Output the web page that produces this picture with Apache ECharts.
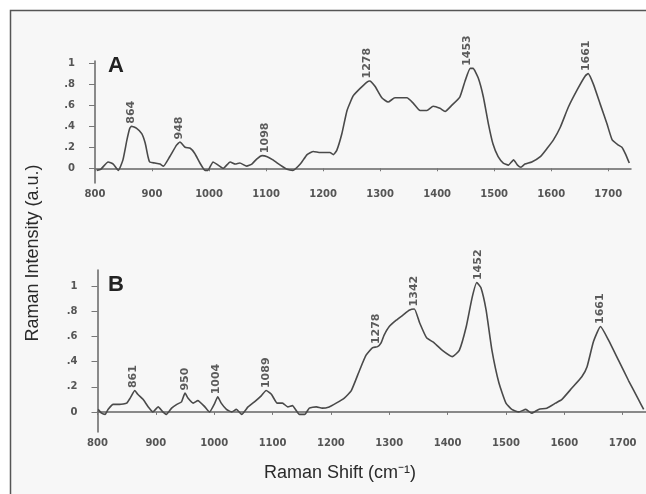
<!DOCTYPE html>
<html>
<head>
<meta charset="utf-8">
<script src="https://cdn.jsdelivr.net/npm/echarts@6/dist/echarts.min.js"></script>
<style>
  html, body { margin: 0; padding: 0; background: #fff; }
  #chart { width: 646px; height: 494px; }
</style>
</head>
<body>
<div id="chart"></div>
<script>
// spectrum A (wavenumber, intensity)
const shiftA = [803, 810, 823, 832, 841, 849, 856, 861, 864, 873, 882, 888, 893, 896, 905, 914, 920, 931, 943, 949, 958, 967, 975, 984, 993, 998, 1007, 1016, 1025, 1037, 1046, 1054, 1066, 1075, 1084, 1093, 1102, 1112, 1125, 1137, 1147, 1160, 1172, 1183, 1195, 1212, 1218, 1224, 1233, 1242, 1253, 1265, 1277, 1282, 1291, 1303, 1314, 1326, 1347, 1358, 1370, 1382, 1393, 1405, 1414, 1426, 1440, 1449, 1458, 1463, 1472, 1481, 1490, 1498, 1507, 1516, 1525, 1534, 1541, 1547, 1554, 1566, 1581, 1593, 1604, 1616, 1630, 1646, 1660, 1665, 1674, 1686, 1698, 1707, 1718, 1724, 1730, 1737];
const intensityA = [-0.02, -0.01, 0.06, 0.04, -0.02, 0.08, 0.27, 0.38, 0.40, 0.38, 0.33, 0.24, 0.11, 0.06, 0.05, 0.04, 0.02, 0.11, 0.22, 0.25, 0.20, 0.19, 0.14, 0.05, -0.02, -0.02, 0.06, 0.03, 0.00, 0.06, 0.04, 0.05, 0.02, 0.04, 0.09, 0.12, 0.11, 0.08, 0.03, -0.01, -0.02, 0.04, 0.13, 0.16, 0.15, 0.15, 0.13, 0.17, 0.33, 0.55, 0.69, 0.76, 0.82, 0.83, 0.78, 0.67, 0.63, 0.67, 0.67, 0.62, 0.55, 0.55, 0.59, 0.57, 0.54, 0.60, 0.68, 0.83, 0.95, 0.95, 0.86, 0.68, 0.42, 0.23, 0.11, 0.05, 0.03, 0.08, 0.03, 0.01, 0.04, 0.06, 0.11, 0.19, 0.27, 0.39, 0.58, 0.75, 0.88, 0.90, 0.80, 0.61, 0.42, 0.27, 0.22, 0.20, 0.14, 0.05];
const peaksA = [864, 948, 1098, 1278, 1453, 1661];
const peakHeightA = [0.40, 0.25, 0.12, 0.83, 0.95, 0.90];

// spectrum B
const shiftB = [801, 807, 813, 818, 827, 838, 850, 856, 864, 869, 878, 887, 895, 904, 912, 918, 927, 936, 944, 950, 955, 964, 972, 984, 992, 1001, 1006, 1012, 1021, 1030, 1038, 1047, 1058, 1069, 1081, 1089, 1098, 1108, 1117, 1126, 1134, 1146, 1155, 1163, 1175, 1185, 1197, 1209, 1223, 1235, 1249, 1260, 1271, 1280, 1286, 1291, 1300, 1312, 1326, 1334, 1343, 1352, 1364, 1377, 1391, 1408, 1420, 1432, 1442, 1450, 1457, 1466, 1476, 1488, 1500, 1510, 1522, 1534, 1544, 1556, 1570, 1585, 1596, 1613, 1630, 1639, 1650, 1662, 1676, 1693, 1710, 1727, 1736];
const intensityB = [0.02, -0.01, -0.02, 0.02, 0.06, 0.06, 0.07, 0.11, 0.17, 0.14, 0.10, 0.04, 0.00, 0.04, 0.00, -0.02, 0.03, 0.06, 0.08, 0.15, 0.11, 0.07, 0.09, 0.04, 0.00, 0.07, 0.12, 0.07, 0.02, 0.00, 0.02, -0.02, 0.04, 0.08, 0.13, 0.17, 0.14, 0.07, 0.07, 0.04, 0.05, -0.02, -0.02, 0.03, 0.04, 0.03, 0.04, 0.07, 0.11, 0.17, 0.33, 0.45, 0.51, 0.52, 0.55, 0.61, 0.68, 0.73, 0.78, 0.81, 0.82, 0.71, 0.59, 0.55, 0.49, 0.44, 0.49, 0.68, 0.91, 1.03, 0.99, 0.81, 0.49, 0.23, 0.07, 0.02, 0.00, 0.02, -0.01, 0.02, 0.03, 0.07, 0.10, 0.19, 0.28, 0.36, 0.56, 0.68, 0.57, 0.41, 0.25, 0.10, 0.02];
const peaksB = [861, 950, 1004, 1089, 1278, 1342, 1452, 1661];
const peakHeightB = [0.17, 0.15, 0.12, 0.17, 0.52, 0.82, 1.03, 0.68];

const yTicks = [0, 0.2, 0.4, 0.6, 0.8, 1];

const chart = echarts.init(document.getElementById('chart'));

function fmtY(v) {
  if (v === 0) return '0';
  if (v === 1) return '1';
  return String(v).replace('0.', '.');
}

function xAxisFor(idx) {
  return {
    type: 'value',
    gridIndex: idx,
    min: 800,
    max: 1740,
    interval: 100,
    axisLine: { lineStyle: { color: '#666', width: 1.5 } },
    axisTick: { length: 3, lineStyle: { color: '#777' } },
    axisLabel: {
      color: '#555', fontSize: 10, fontWeight: 'bold', fontFamily: 'DejaVu Sans',
      margin: 6, showMaxLabel: false, formatter: v => String(v)
    },
    splitLine: { show: false }
  };
}

function yAxisFor(idx, min, max) {
  return {
    type: 'value',
    gridIndex: idx,
    min: min,
    max: max,
    axisLine: { show: true, lineStyle: { color: '#666', width: 1.5 } },
    axisTick: { show: true, length: 6, customValues: yTicks, lineStyle: { color: '#777' } },
    axisLabel: {
      customValues: yTicks, formatter: fmtY, color: '#555',
      fontSize: 10, fontWeight: 'bold', fontFamily: 'DejaVu Sans', margin: 20
    },
    splitLine: { show: false }
  };
}

function spectrum(idx, xs, ys) {
  return {
    type: 'line',
    xAxisIndex: idx,
    yAxisIndex: idx,
    data: xs.map((x, i) => [x, ys[i]]),
    showSymbol: false,
    smooth: 0.15,
    lineStyle: { color: '#4a4a4a', width: 1.6 },
    silent: true
  };
}

function peakLabels(idx, xs, ys) {
  return {
    type: 'scatter',
    xAxisIndex: idx,
    yAxisIndex: idx,
    data: xs.map((x, i) => [x, ys[i]]),
    symbolSize: 1,
    itemStyle: { color: 'rgba(0,0,0,0)' },
    label: {
      show: true,
      position: 'top',
      distance: 2,
      rotate: 90,
      align: 'left',
      verticalAlign: 'middle',
      formatter: p => String(p.value[0]),
      color: '#333',
      fontSize: 11,
      fontWeight: 'bold',
      fontFamily: 'DejaVu Sans'
    },
    silent: true
  };
}

chart.setOption({
  animation: false,
  backgroundColor: '#fff',
  graphic: [
    {
      type: 'rect', z: -10,
      shape: { x: 10.5, y: 10.5, width: 700, height: 600 },
      style: { fill: '#f7f7f7', stroke: '#555', lineWidth: 1.5 }
    },
    {
      type: 'text', left: 108, top: 55,
      style: { text: 'A', font: 'bold 22px "Liberation Sans", Arial', fill: '#222' }
    },
    {
      type: 'text', left: 108, top: 274,
      style: { text: 'B', font: 'bold 22px "Liberation Sans", Arial', fill: '#222' }
    },
    {
      type: 'text', x: 33, y: 253, rotation: Math.PI / 2,
      style: { text: 'Raman Intensity (a.u.)', font: '18px "Liberation Sans", Arial', fill: '#2a2a2a', align: 'center', verticalAlign: 'middle' }
    },
    {
      type: 'text', x: 340, y: 473,
      style: { text: 'Raman Shift (cm\u207B\u00B9)', font: '18px "Liberation Sans", Arial', fill: '#2a2a2a', align: 'center', verticalAlign: 'middle' }
    }
  ],
  grid: [
    { left: 95, top: 61, width: 536, height: 122 },
    { left: 97.5, top: 270, width: 550, height: 162 }
  ],
  xAxis: [xAxisFor(0), xAxisFor(1)],
  yAxis: [yAxisFor(0, -0.14, 1.02), yAxisFor(1, -0.16, 1.13)],
  series: [
    spectrum(0, shiftA, intensityA),
    peakLabels(0, peaksA, peakHeightA),
    spectrum(1, shiftB, intensityB),
    peakLabels(1, peaksB, peakHeightB)
  ]
});
</script>
</body>
</html>
